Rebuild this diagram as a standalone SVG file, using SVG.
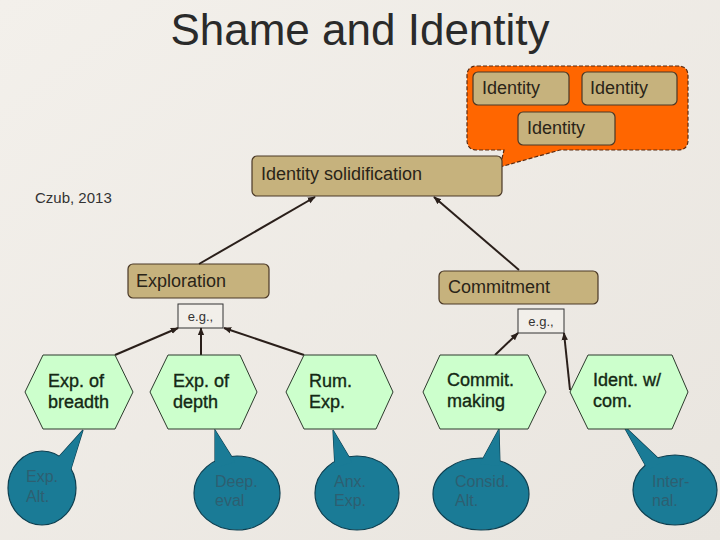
<svg xmlns="http://www.w3.org/2000/svg" width="720" height="540" viewBox="0 0 720 540">
<defs>
<linearGradient id="bg" x1="0" y1="0" x2="1" y2="1">
<stop offset="0" stop-color="#f3f0eb"/>
<stop offset="1" stop-color="#e9e5df"/>
</linearGradient>
<marker id="arr" viewBox="0 0 10 10" refX="9" refY="5" markerWidth="4" markerHeight="4" orient="auto">
<path d="M0,1 L10,5 L0,9 Z" fill="#2a1f1a"/>
</marker>
</defs>
<style>
.t{font-family:"Liberation Sans",Arial,sans-serif}
.tan{fill:#c6b27d;stroke:#4a3826;stroke-width:1.2}
.tant{font-size:18px;fill:#2a2418}
.hex{fill:#ccffcc;stroke:#2d3a2d;stroke-width:1}
.hext{font-size:18px;fill:#142814;stroke:#142814;stroke-width:0.35}
.bub{fill:#1a7b96;stroke:#0e3f50;stroke-width:1.2}
.bubf{fill:#1a7b96}
.bubt{font-size:16px;fill:#2d5f71}
.eg{fill:#f2efea;stroke:#333;stroke-width:1}
.egt{font-size:13px;fill:#333}
.con{stroke:#2a1f1a;stroke-width:2;fill:none;marker-end:url(#arr)}
</style>
<rect x="0" y="0" width="720" height="540" fill="url(#bg)"/>
<text class="t" x="360" y="45" font-size="44" text-anchor="middle" fill="#2a2a2a">Shame and Identity</text>
<text class="t" x="35" y="203" font-size="15" fill="#333">Czub, 2013</text>

<g id="callout">
<path d="M477,66 H678 Q688,66 688,76 V140 Q688,150 678,150 H560 L500,167 L504,150 H477 Q467,150 467,140 V76 Q467,66 477,66 Z" fill="#ff6600" stroke="#5a2a10" stroke-width="1.2" stroke-dasharray="4 2"/>
</g>
<g id="identity1"><rect class="tan" x="473" y="72" width="96" height="33" rx="5"/><text class="t tant" x="482" y="94">Identity</text></g>
<g id="identity2"><rect class="tan" x="582" y="72" width="95" height="33" rx="5"/><text class="t tant" x="590" y="94">Identity</text></g>
<g id="identity3"><rect class="tan" x="518" y="112" width="97" height="33" rx="5"/><text class="t tant" x="527" y="134">Identity</text></g>

<g id="solidification"><rect class="tan" x="252" y="156" width="250" height="40" rx="5"/><text class="t tant" x="261" y="180">Identity solidification</text></g>
<g id="exploration"><rect class="tan" x="128" y="264" width="141" height="34" rx="5"/><text class="t tant" x="136" y="287">Exploration</text></g>
<g id="commitment"><rect class="tan" x="439" y="271" width="159" height="33" rx="5"/><text class="t tant" x="448" y="293">Commitment</text></g>

<g id="eg1"><rect class="eg" x="178" y="304" width="45" height="24"/><text class="t egt" x="200.5" y="321" text-anchor="middle">e.g.,</text></g>
<g id="eg2"><rect class="eg" x="518" y="309" width="46" height="24"/><text class="t egt" x="541" y="326" text-anchor="middle">e.g.,</text></g>

<g id="connectors">
<line class="con" x1="199" y1="264" x2="315" y2="197"/>
<line class="con" x1="519" y1="270" x2="434" y2="197"/>
<line class="con" x1="115" y1="355" x2="178" y2="328"/>
<line class="con" x1="201" y1="355" x2="201" y2="328"/>
<line class="con" x1="304" y1="355" x2="224" y2="328"/>
<line class="con" x1="495" y1="355" x2="518" y2="333"/>
<line class="con" x1="570" y1="390" x2="564" y2="333"/>
</g>

<g id="bubble1"><polygon class="bub" points="83,430 56,460 70,472"/><ellipse class="bub" cx="42" cy="488" rx="34" ry="37"/><polygon class="bubf" points="83,430 56,460 70,472"/><text class="t bubt" x="26" y="482">Exp.</text><text class="t bubt" x="26" y="502">Alt.</text></g>
<g id="bubble2"><polygon class="bub" points="215,430 215,468 235,462"/><ellipse class="bub" cx="237" cy="493" rx="43" ry="37"/><polygon class="bubf" points="215,430 215,468 235,462"/><text class="t bubt" x="215" y="487">Deep.</text><text class="t bubt" x="215" y="506">eval</text></g>
<g id="bubble3"><polygon class="bub" points="333,430 335,468 352,462"/><ellipse class="bub" cx="357" cy="493" rx="42" ry="37"/><polygon class="bubf" points="333,430 335,468 352,462"/><text class="t bubt" x="334" y="487">Anx.</text><text class="t bubt" x="334" y="506">Exp.</text></g>
<g id="bubble4"><polygon class="bub" points="499,429 480,464 500,466"/><ellipse class="bub" cx="481" cy="494" rx="48" ry="36"/><polygon class="bubf" points="499,429 480,464 500,466"/><text class="t bubt" x="455" y="487">Consid.</text><text class="t bubt" x="455" y="506">Alt.</text></g>
<g id="bubble5"><polygon class="bub" points="623,425 648,470 662,462"/><ellipse class="bub" cx="675" cy="490" rx="42" ry="35"/><polygon class="bubf" points="623,425 648,470 662,462"/><text class="t bubt" x="652" y="487">Inter-</text><text class="t bubt" x="652" y="506">nal.</text></g>

<g id="hex1"><polygon class="hex" points="25,392 43,355 115,355 133,392 115,429 43,429"/><text class="t hext" x="48" y="387">Exp. of</text><text class="t hext" x="48" y="408">breadth</text></g>
<g id="hex2"><polygon class="hex" points="150,392 168,355 240,355 257,392 240,429 168,429"/><text class="t hext" x="173" y="387">Exp. of</text><text class="t hext" x="173" y="408">depth</text></g>
<g id="hex3"><polygon class="hex" points="286,392 304,355 376,355 393,392 376,429 304,429"/><text class="t hext" x="309" y="387">Rum.</text><text class="t hext" x="309" y="408">Exp.</text></g>
<g id="hex4"><polygon class="hex" points="423,392 440,355 528,355 546,392 528,429 440,429"/><text class="t hext" x="447" y="386">Commit.</text><text class="t hext" x="447" y="407">making</text></g>
<g id="hex5"><polygon class="hex" points="570,392 588,355 672,355 688,392 672,429 588,429"/><text class="t hext" x="593" y="386">Ident. w/</text><text class="t hext" x="593" y="407">com.</text></g>
</svg>
